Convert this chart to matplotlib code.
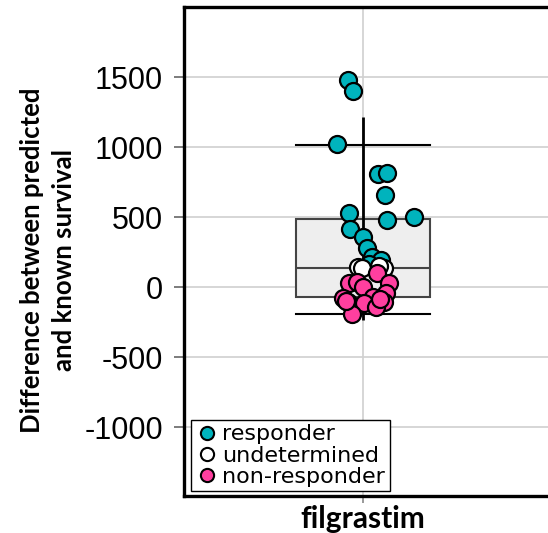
import matplotlib.pyplot as plt
from matplotlib.lines import Line2D

# y values, x = horizontal jitter in data units
responder_x = [-0.084, -0.056, -0.145, 0.084, 0.134, 0.123, -0.078, 0.134, 0.285,
               -0.073, 0.0, 0.022, 0.05, 0.1, 0.034]
responder_y = [1479, 1400, 1021, 807, 814, 657, 529, 479, 500,
               414, 357, 279, 214, 193, 164]
undetermined_x = [-0.028, -0.006, 0.117, 0.089]
undetermined_y = [143, 135, 136, 150]
nonresp_x = [0.078, -0.078, -0.034, 0.0, 0.145, 0.128, -0.112, -0.084, 0.056,
             0.006, 0.117, 0.073, -0.061, 0.095, -0.095]
nonresp_y = [100, 29, 36, 0, 29, -43, -79, -107, -71,
             -114, -107, -143, -193, -85, -95]

box_stats = dict(q1=-71, med=136, q3=486, whislo=-193, whishi=1014)
vline_lo, vline_hi = -236, 1214

yticks = [-1000, -500, 0, 500, 1000, 1500]
category = "filgrastim"

TEAL = "#00b3bd"
PINK = "#ff3f9f"

fig = plt.figure(figsize=(5.48, 5.33), dpi=100)
ax = fig.add_axes([184 / 548, 37 / 533, 416 / 548, 489 / 533])

ax.set_xlim(-1.0, 1.324)
ax.set_ylim(-1490, 2000)

ax.grid(True, color="#d0d0d0", linewidth=1.2, zorder=0)
ax.set_axisbelow(True)

stats = [dict(box_stats, fliers=[], label="")]
ax.bxp(stats, positions=[0], widths=0.75, showfliers=False, patch_artist=True,
       boxprops=dict(facecolor="#eeeeee", edgecolor="#444444", linewidth=1.5),
       medianprops=dict(color="#444444", linewidth=1.5),
       whiskerprops=dict(linewidth=0),
       capprops=dict(color="black", linewidth=1.5), capwidths=0.75,
       zorder=2)
ax.vlines(0, vline_lo, vline_hi, color="black", linewidth=2, zorder=3)

common = dict(s=150, edgecolors="black", linewidths=1.6, zorder=4)
ax.scatter(responder_x, responder_y, c=TEAL, **common)
ax.scatter(undetermined_x, undetermined_y, c="white", **common)
ax.scatter(nonresp_x, nonresp_y, c=PINK, **common)

ax.set_yticks(yticks)
ax.set_yticklabels([str(v) for v in yticks], fontsize=22,
                   fontfamily="Liberation Sans")
ax.set_xticks([0])
ax.set_xticklabels([category], fontsize=21.5, fontweight="bold", fontfamily="Lato")
ax.tick_params(axis="y", length=7, width=1.2, color="#666666", pad=8)
ax.tick_params(axis="x", length=5, width=1.2, color="#888888", pad=1.5)

for side in ["left", "top", "bottom"]:
    ax.spines[side].set_linewidth(2.4)
    ax.spines[side].set_color("black")
ax.spines["right"].set_visible(False)

fig.text(48 / 548, 1 - 260 / 533, "Difference between predicted\nand known survival",
         rotation=90, ha="center", va="center", fontsize=18.5, fontweight="bold",
         fontfamily="Lato", linespacing=1.35)

handles = [
    Line2D([], [], marker="o", linestyle="", markerfacecolor=face,
           markeredgecolor="black", markeredgewidth=1.5, markersize=9.5)
    for face in (TEAL, "white", PINK)
]
leg = ax.legend(handles, ["responder", "undetermined", "non-responder"],
                loc="lower left", bbox_to_anchor=(0.017, 0.01), fancybox=False,
                framealpha=1, edgecolor="black", handletextpad=0.2,
                handlelength=1.0, borderpad=0.2, labelspacing=0.05,
                borderaxespad=0, prop=dict(family="DejaVu Sans", size=16))
leg.get_frame().set_linewidth(1.0)

fig.savefig("out.png", dpi=100)
